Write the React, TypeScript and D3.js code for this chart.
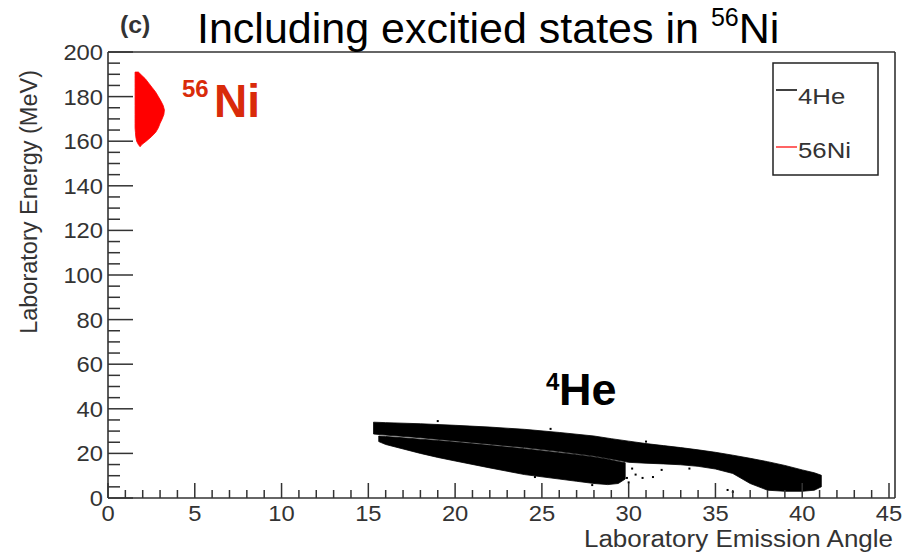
import * as d3 from "d3";

// angle range of the axis, energy range of the axis
const angleDomain = [0, 45];
const energyDomain = [0, 200];

// 4He, ground state band: angle (deg), upper and lower edge of energy (MeV)
const heGroundAngle = [15.3, 16, 18, 20, 22, 24, 26, 28, 29, 30, 31, 32, 33, 34, 35, 36, 37, 38, 39, 40, 40.7, 41.1];
const heGroundTop = [34, 33.8, 33.3, 32.6, 31.8, 30.8, 29.4, 27.8, 26.6, 25.5, 24.4, 23.5, 22.6, 21.6, 20.5, 19.2, 17.8, 16.3, 14.6, 12.6, 11.3, 10.2];
const heGroundBottom = [28.7, 28.2, 27, 25.6, 24.1, 22.6, 20.8, 18.8, 17.5, 16, 15.6, 15.3, 14.9, 14.2, 13, 11, 6.5, 3.5, 3, 3, 3.5, 5];

// 4He, excited state band
const heExcAngle = [15.6, 16, 17, 18, 19, 20, 22, 24, 26, 27, 28, 28.8, 29.4, 29.8];
const heExcTop = [27.8, 27.6, 27, 26.4, 25.8, 25.1, 23.6, 22.1, 20.3, 19.4, 18.4, 17.4, 16.4, 15.8];
const heExcBottom = [25.3, 24, 22, 20, 18.2, 16.6, 13.5, 10.5, 8.5, 7.5, 6.5, 6, 6.5, 8.5];

// stray 4He events
const heStray: [number, number][] = [
  [24.0, 13.5], [24.6, 9.4], [25.5, 11], [27.9, 5.8], [29.6, 12], [29.9, 9], [30.2, 13.2],
  [30.4, 10.5], [30.8, 9], [31.4, 9.4], [31.9, 12.6], [35.7, 3.6], [36.0, 2.7], [36.9, 9],
  [30.0, 7], [29.3, 14], [19, 34.5], [25.5, 31], [31, 25.3], [33.5, 13.2], [37.5, 9.5],
];

// 56Ni: energy (MeV), min and max angle (deg)
const niEnergy = [191, 189.5, 188, 186, 184, 182, 180, 178, 176, 174, 172, 170, 168, 166, 164, 162, 160, 158.5, 157.5];
const niMin = [1.56, 1.56, 1.56, 1.56, 1.56, 1.56, 1.56, 1.56, 1.56, 1.56, 1.56, 1.56, 1.56, 1.56, 1.58, 1.6, 1.65, 1.75, 1.85];
const niMax = [1.75, 1.95, 2.15, 2.35, 2.55, 2.75, 2.9, 3.05, 3.18, 3.25, 3.22, 3.12, 3.0, 2.9, 2.75, 2.5, 2.2, 1.95, 1.85];

const yMajor = d3.range(0, 201, 20);
const yMinor = d3.range(0, 201, 5);
const xMajor = d3.range(0, 46, 5);
const xMinor = d3.range(0, 46, 1);

const font = "'Liberation Sans', Arial, Helvetica, sans-serif";

function Label({ x, y, size, anchor = "start", sx = 1, weight = "normal", fill = "#333", rotate = 0, children }: any) {
  return (
    <text
      transform={`translate(${x},${y}) rotate(${rotate}) scale(${sx},1)`}
      textAnchor={anchor}
      fontSize={size}
      fontWeight={weight}
      fill={fill}
      fontFamily={font}
    >
      {children}
    </text>
  );
}

export default function App() {
  const width = 904;
  const height = 555;
  const x = d3.scaleLinear().domain(angleDomain).range([108, 889]);
  const y = d3.scaleLinear().domain(energyDomain).range([498, 52]);

  const groundPath = d3
    .area<number>()
    .x((_, i) => x(heGroundAngle[i]))
    .y0((_, i) => y(heGroundBottom[i]))
    .y1((_, i) => y(heGroundTop[i]))(heGroundAngle);

  const excPath = d3
    .area<number>()
    .x((_, i) => x(heExcAngle[i]))
    .y0((_, i) => y(heExcBottom[i]))
    .y1((_, i) => y(heExcTop[i]))(heExcAngle);

  const niPath = d3
    .area<number>()
    .y((_, i) => y(niEnergy[i]))
    .x0((_, i) => x(niMin[i]))
    .x1((_, i) => x(niMax[i]))(niEnergy);

  const left = x(0);
  const bottom = y(0);
  const frameRight = 895;

  return (
    <svg width={width} height={height} style={{ position: "absolute", left: 0, top: 0, background: "#fff" }}>
      <rect width={width} height={height} fill="#fff" />

      {/* data */}
      <path d={niPath ?? ""} fill="#ff0000" stroke="#ff0000" strokeWidth={0.8} />
      <path d={groundPath ?? ""} fill="#000" stroke="#000" strokeWidth={0.8} />
      <path d={excPath ?? ""} fill="#000" stroke="#000" strokeWidth={0.8} />
      {heStray.map(([a, e], i) => (
        <rect key={i} x={x(a) - 1} y={y(e) - 1} width={2} height={2} fill="#000" />
      ))}

      {/* frame */}
      <g stroke="#333" strokeWidth={1.6} fill="none">
        <line x1={left} x2={frameRight} y1={y(200)} y2={y(200)} />
        <line x1={frameRight} x2={frameRight} y1={y(200)} y2={bottom} />
        <line x1={left} x2={frameRight} y1={bottom} y2={bottom} />
        <line x1={left} x2={left} y1={y(200)} y2={bottom} />
      </g>

      {/* y axis ticks */}
      <g stroke="#333" strokeWidth={1.5}>
        {yMinor.map((v) => (
          <line key={v} x1={left} x2={left + (v % 20 === 0 ? 25 : 12)} y1={y(v)} y2={y(v)} />
        ))}
      </g>
      {yMajor.map((v) => (
        <Label key={v} x={103} y={y(v) + 8} size={22} anchor="end" sx={1.08}>
          {v}
        </Label>
      ))}

      {/* x axis ticks */}
      <g stroke="#333" strokeWidth={1.5}>
        {xMinor.map((v) => (
          <line key={v} x1={x(v)} x2={x(v)} y1={bottom} y2={bottom - (v % 5 === 0 ? 15 : 8)} />
        ))}
      </g>
      {xMajor.map((v) => (
        <Label key={v} x={x(v)} y={521} size={22} anchor="middle" sx={1.08}>
          {v}
        </Label>
      ))}

      {/* axis titles */}
      <Label x={893} y={547} size={23} anchor="end" sx={1.13}>
        Laboratory Emission Angle
      </Label>
      <Label x={37} y={70} size={23.5} anchor="end" rotate={-90}>
        Laboratory Energy (MeV)
      </Label>

      {/* titles */}
      <Label x={120} y={33} size={23} weight="bold" sx={1.08}>
        (c)
      </Label>
      <text x={197} y={43} fontSize={43} fill="#000" fontFamily={font}>
        Including excitied states in{" "}
        <tspan dy={-17} fontSize={25}>
          56
        </tspan>
        <tspan dy={17} fontSize={43}>
          Ni
        </tspan>
      </text>

      {/* particle labels */}
      <text x={182} y={97} fontSize={24} fontWeight="bold" fill="#d92b0a" fontFamily={font}>
        56
      </text>
      <text x={214} y={117} fontSize={46} fontWeight="bold" fill="#d92b0a" fontFamily={font}>
        Ni
      </text>
      <text x={546} y={390} fontSize={24} fontWeight="bold" fill="#000" fontFamily={font}>
        4
      </text>
      <text x={559} y={405} fontSize={45} fontWeight="bold" fill="#000" fontFamily={font}>
        He
      </text>

      {/* legend */}
      <rect x={773} y={63} width={105} height={112} fill="#fff" stroke="#222" strokeWidth={1.5} />
      <line x1={776} x2={797} y1={90} y2={90} stroke="#000" strokeWidth={1.5} />
      <Label x={798} y={104} size={23} sx={1.12}>
        4He
      </Label>
      <line x1={776} x2={797} y1={147} y2={147} stroke="#ff3030" strokeWidth={1.5} />
      <Label x={798} y={158} size={23} sx={1.12}>
        56Ni
      </Label>
    </svg>
  );
}
